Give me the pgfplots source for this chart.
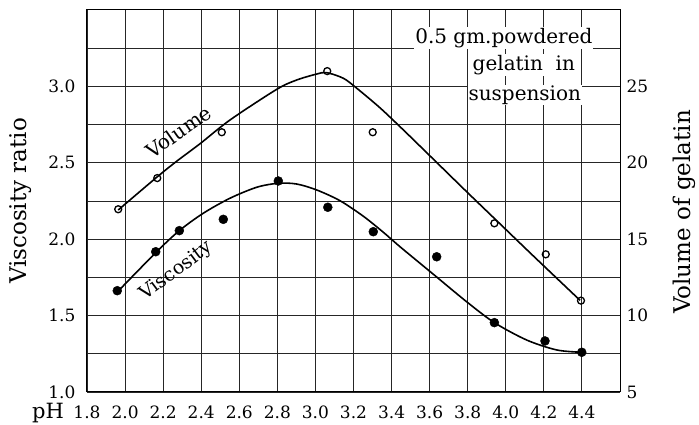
\documentclass[border=0pt]{standalone}
\usepackage{fontspec}
\setmainfont{DejaVu Serif}
\usepackage{pgfplots}
\pgfplotsset{compat=1.18}

% viscosity ratio (left axis)
\pgfplotstableread{
ph    r
1.959 1.663
2.161 1.918
2.285 2.056
2.516 2.130
2.805 2.381
3.065 2.209
3.304 2.049
3.637 1.885
3.940 1.454
4.206 1.334
4.399 1.260
}\viscpts

% volume of gelatin (right axis)
\pgfplotstableread{
ph    v
1.964 16.96
2.169 19.00
2.508 22.00
3.062 26.00
3.301 22.00
3.940 16.04
4.210 14.01
4.395 10.98
}\volpts

\begin{document}
\begin{tikzpicture}
\pgfplotsset{
  every axis/.append style={
    scale only axis, width=533pt, height=382pt,
    xmin=1.8, xmax=4.6,
    major tick length=0pt, minor tick length=0pt,
    tick label style={font=\fontsize{17}{17}\selectfont},
    /pgf/number format/assume math mode=true,
    clip=false,
  },
}
\begin{axis}[
  ymin=1, ymax=3.5,
  xtick={1.8,2,2.2,2.4,2.6,2.8,3,3.2,3.4,3.6,3.8,4,4.2,4.4},
  ytick={1,1.5,2,2.5,3},
  minor ytick={1.25,1.75,2.25,2.75,3.25},
  grid=both,
  major grid style={black!85, line width=0.9pt},
  minor grid style={black!85, line width=0.9pt},
  axis line style={black, line width=1pt},
  /pgf/number format/fixed,
  /pgf/number format/fixed zerofill,
  /pgf/number format/precision=1,
  yticklabel style={xshift=-8pt},
  xticklabel style={yshift=-10pt},
]
\addplot[black, line width=1.6pt, smooth] coordinates {
 (1.966,1.663) (2.166,1.918) (2.285,2.056) (2.411,2.170) (2.551,2.268)
 (2.692,2.340) (2.805,2.366) (2.902,2.361) (3.007,2.322) (3.129,2.252)
 (3.252,2.150) (3.357,2.045) (3.445,1.950) (3.620,1.770) (3.795,1.590)
 (3.940,1.454) (4.110,1.340) (4.268,1.275) (4.399,1.260)
};
\addplot[only marks, mark=*, mark size=4.5pt, black] table[x=ph, y=r] {\viscpts};

\node[font=\fontsize{19}{19}\selectfont, rotate=37] at (axis cs:2.270,1.790) {Viscosity};
\node[font=\fontsize{20}{20}\selectfont, rotate=35] at (axis cs:2.280,2.704) {Volume};

\node[font=\fontsize{20}{20}\selectfont, fill=white, inner sep=1pt] at (axis cs:3.990,3.317) {0.5 gm.powdered};
\node[font=\fontsize{20}{20}\selectfont, fill=white, inner sep=1pt] at (axis cs:4.095,3.140) {gelatin\ \ in};
\node[font=\fontsize{20}{20}\selectfont, fill=white, inner sep=1pt] at (axis cs:4.100,2.944) {suspension};

\node[font=\fontsize{21}{21}\selectfont] at (rel axis cs:0,0) [xshift=-39pt, yshift=-21pt] {pH};
\node[font=\fontsize{23}{23}\selectfont, xshift=-66pt, rotate=90] at (rel axis cs:0,0.5) {Viscosity ratio};
\node[font=\fontsize{23}{23}\selectfont, xshift=64pt, yshift=-11pt, rotate=90] at (rel axis cs:1,0.5) {Volume of gelatin};
\end{axis}

\begin{axis}[
  ymin=5, ymax=30,
  axis x line=none,
  axis y line*=right,
  axis line style={black, line width=1pt},
  ytick={5,10,15,20,25},
  yticklabel style={xshift=3pt},
]
\addplot[black, line width=1.6pt, smooth] coordinates {
 (1.964,16.91) (2.166,19.05) (2.271,20.10) (2.394,21.25) (2.551,22.80)
 (2.797,24.81) (2.902,25.42) (3.007,25.81) (3.059,25.90) (3.147,25.53)
 (3.217,24.88) (3.339,23.60) (3.462,22.15) (3.602,20.45) (3.795,18.10)
 (3.970,16.00) (4.145,13.90) (4.390,11.00)
};
\addplot[only marks, mark=o, mark size=3.5pt, line width=1.3pt, black,
  mark options={fill=white}] table[x=ph, y=v] {\volpts};
\end{axis}

\pgfresetboundingbox
\path[use as bounding box] (-87pt,-33pt) rectangle (612pt,392pt);
\end{tikzpicture}
\end{document}
